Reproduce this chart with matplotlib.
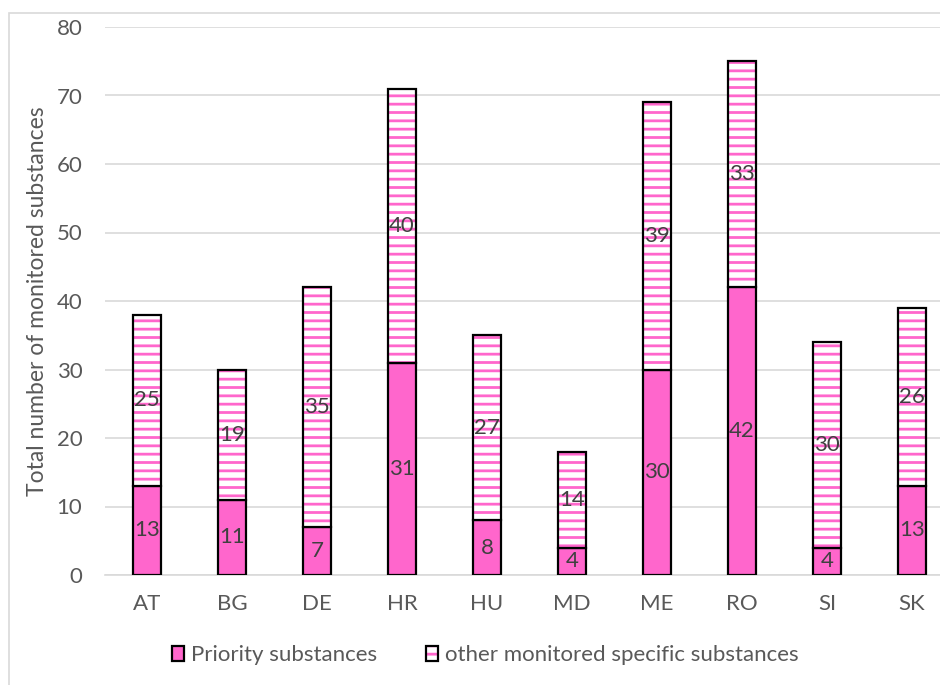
import matplotlib.pyplot as plt
from matplotlib.patches import Rectangle, Patch
import numpy as np

countries = ['AT', 'BG', 'DE', 'HR', 'HU', 'MD', 'ME', 'RO', 'SI', 'SK']
priority = [13, 11, 7, 31, 8, 4, 30, 42, 4, 13]
other_specific = [25, 19, 35, 40, 27, 14, 39, 33, 30, 26]
series_names = ['Priority substances', 'other monitored specific substances']
y_ticks = [0, 10, 20, 30, 40, 50, 60, 70, 80]

pink = '#FF66CC'
plt.rcParams['font.family'] = ['Lato', 'DejaVu Sans']
plt.rcParams['hatch.linewidth'] = 2.0

W, H = 940, 685
fig = plt.figure(figsize=(W / 100, H / 100), dpi=100)
# plot area runs a little past the right edge of the canvas
ax = fig.add_axes([104.5 / W, 110 / H, 850 / W, 548 / H])

x = np.arange(len(countries))
width = 0.32
prio = np.array(priority)
other = np.array(other_specific)

ax.bar(x, prio, width, color=pink, edgecolor='black', linewidth=1.6, zorder=3)
# hatched part: pink stripes first, then the black outline on top
ax.bar(x, other, width, bottom=prio, facecolor='white', edgecolor=pink,
       hatch='--', linewidth=0, zorder=3)
ax.bar(x, other, width, bottom=prio, fill=False, edgecolor='black',
       linewidth=1.6, zorder=4)

for xi, p, o in zip(x, prio, other):
    ax.text(xi, p / 2, str(p), ha='center', va='center', fontsize=16,
            color='#404040', zorder=5)
    ax.text(xi, p + o / 2, str(o), ha='center', va='center', fontsize=16,
            color='#404040', zorder=5)

ax.set_xlim(-0.5, len(countries) - 0.5)
ax.set_ylim(0, 80)
ax.set_yticks(y_ticks)
ax.set_xticks(x)
ax.set_xticklabels(countries)
ax.tick_params(axis='both', length=0, labelsize=16, labelcolor='#595959')
ax.tick_params(axis='y', pad=16)
ax.tick_params(axis='x', pad=14)
ax.yaxis.grid(True, color='#D9D9D9', linewidth=1.2, zorder=0)
ax.set_axisbelow(True)
for s in ['top', 'right', 'left']:
    ax.spines[s].set_visible(False)
ax.spines['bottom'].set_color('#D9D9D9')
ax.spines['bottom'].set_linewidth(1.2)
ax.set_ylabel('Total number of monitored substances', fontsize=16.5,
              color='#595959', labelpad=6)

h1 = Patch(facecolor=pink, edgecolor='black', linewidth=1.6)
h2a = Patch(facecolor='white', edgecolor=pink, hatch='--', linewidth=0)
h2b = Patch(fill=False, edgecolor='black', linewidth=1.6)
leg = fig.legend([h1, (h2a, h2b)], series_names, loc='center',
                 bbox_to_anchor=(485 / W, 1 - 655 / H), ncol=2, frameon=False,
                 fontsize=16, handlelength=0.55, handleheight=0.65,
                 handletextpad=0.3, columnspacing=2.2)
for t in leg.get_texts():
    t.set_color('#595959')

# light chart-area frame
fig.add_artist(Rectangle((9 / W, -0.1), 1.2, 1.1 - 13 / H,
                         transform=fig.transFigure, fill=False,
                         edgecolor='#D9D9D9', linewidth=1.2))

fig.savefig('out.png', dpi=100)
